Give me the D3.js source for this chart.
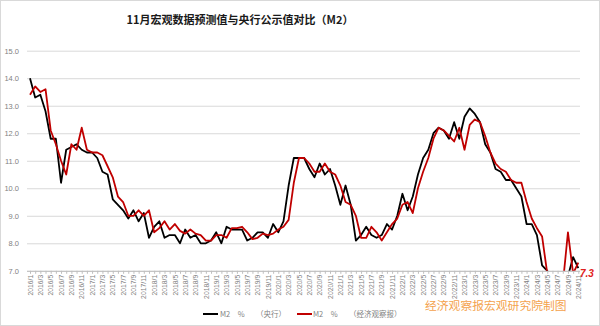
<!DOCTYPE html>
<html><head><meta charset="utf-8">
<script src="https://cdn.jsdelivr.net/npm/d3@7"></script>
<style>html,body{margin:0;padding:0;background:#fff;}svg{display:block;}</style>
</head><body>
<script>
const title = "11月宏观数据预测值与央行公示值对比（M2）";
const categories = [
"2016/1","2016/2","2016/3","2016/4","2016/5","2016/6","2016/7","2016/8","2016/9","2016/10","2016/11","2016/12",
"2017/1","2017/2","2017/3","2017/4","2017/5","2017/6","2017/7","2017/8","2017/9","2017/10","2017/11","2017/12",
"2018/1","2018/2","2018/3","2018/4","2018/5","2018/6","2018/7","2018/8","2018/9","2018/10","2018/11","2018/12",
"2019/1","2019/2","2019/3","2019/4","2019/5","2019/6","2019/7","2019/8","2019/9","2019/10","2019/11","2019/12",
"2020/1","2020/2","2020/3","2020/4","2020/5","2020/6","2020/7","2020/8","2020/9","2020/10","2020/11","2020/12",
"2021/1","2021/2","2021/3","2021/4","2021/5","2021/6","2021/7","2021/8","2021/9","2021/10","2021/11","2021/12",
"2022/1","2022/2","2022/3","2022/4","2022/5","2022/6","2022/7","2022/8","2022/9","2022/10","2022/11","2022/12",
"2023/1","2023/2","2023/3","2023/4","2023/5","2023/6","2023/7","2023/8","2023/9","2023/10","2023/11","2023/12",
"2024/1","2024/2","2024/3","2024/4","2024/5","2024/6","2024/7","2024/8","2024/9","2024/10","2024/11"];
// M2 % (central bank)
const pbocM2 = [
14.0,13.3,13.4,12.8,11.8,11.8,10.2,11.4,11.5,11.6,11.4,11.3,
11.3,11.1,10.6,10.5,9.6,9.4,9.2,8.9,9.2,8.8,9.1,8.2,
8.6,8.8,8.2,8.3,8.3,8.0,8.5,8.2,8.3,8.0,8.0,8.1,
8.4,8.0,8.6,8.5,8.5,8.5,8.1,8.2,8.4,8.4,8.2,8.7,
8.4,8.8,10.1,11.1,11.1,11.1,10.7,10.4,10.9,10.5,10.7,10.1,
9.4,10.1,9.4,8.1,8.3,8.6,8.3,8.2,8.3,8.7,8.5,9.0,
9.8,9.2,9.7,10.5,11.1,11.4,12.0,12.2,12.1,11.8,12.4,11.8,
12.6,12.9,12.7,12.4,11.6,11.3,10.7,10.6,10.3,10.3,10.0,9.7,
8.7,8.7,8.3,7.2,7.0,6.2,6.3,6.3,6.8,7.5,7.1];
// M2 % (Economic Observer forecast)
const eeoM2 = [
13.4,13.7,13.5,13.6,12.1,11.6,11.0,10.5,11.6,11.4,12.2,11.4,
11.3,11.3,11.2,10.8,10.4,9.7,9.5,9.0,9.0,9.2,9.0,9.2,
8.4,8.55,8.8,8.5,8.7,8.45,8.35,8.5,8.35,8.3,8.1,8.1,
8.3,8.3,8.2,8.55,8.55,8.6,8.4,8.15,8.2,8.35,8.3,8.35,
8.5,8.6,8.85,10.2,11.1,11.1,10.9,10.6,10.6,10.9,10.6,10.5,
10.1,9.5,9.4,9.0,8.2,8.2,8.6,8.4,8.1,8.4,8.7,8.9,
9.4,9.5,9.1,10.0,10.6,11.1,11.8,12.2,12.1,11.9,11.7,12.2,
11.4,12.3,12.5,12.4,11.9,11.3,10.9,10.7,10.6,10.3,10.2,10.2,
9.5,8.9,8.55,8.25,6.9,6.6,6.4,6.5,8.4,6.9,7.3];
const yTicks = [7,8,9,10,11,12,13,14,15];
const legendLabels = ["M2　%", "（央行）", "M2　%", "（经济观察报）"];
const endLabel = "7.3";
const watermark = "经济观察报宏观研究院制图";

const W = 600, H = 326;
const svg = d3.select("body").append("svg").attr("width", W).attr("height", H);
svg.append("rect").attr("x",0.5).attr("y",0.5).attr("width",W-1).attr("height",H-1)
  .attr("fill","#fff").attr("stroke","#d9d9d9");

const plotL = 27, plotR = 580, plotT = 50.7, plotB = 270.8;
const x = d3.scalePoint().domain(categories).range([30, 578.3]);
const y = d3.scaleLinear().domain([7, 15]).range([plotB, plotT]);

svg.append("text").attr("x", 240).attr("y", 24).attr("text-anchor","middle")
  .attr("font-family","'Noto Sans CJK SC', sans-serif").attr("font-weight","bold")
  .attr("font-size", 11).attr("fill","#1a1a1a").text(title);

// gridlines
const yAxis = d3.axisLeft(y).tickValues(yTicks).tickFormat(d3.format(".1f"))
  .tickSize(-(plotR - plotL)).tickPadding(8);
const gy = svg.append("g").attr("transform", `translate(${plotL},0)`).call(yAxis);
gy.select(".domain").remove();
gy.selectAll(".tick line").attr("stroke","#d9d9d9").attr("stroke-width",1);
gy.selectAll(".tick text").attr("font-family","'Liberation Sans', Arial, sans-serif")
  .attr("font-size", 7.5).attr("fill","#7f7f7f");

// x axis
const xAxis = d3.axisBottom(x).tickSize(3).tickFormat((d,i) => i % 2 === 0 ? d : "");
const gx = svg.append("g").attr("transform", `translate(0,${plotB})`).call(xAxis);
gx.select(".domain").attr("d", `M${plotL},0.5H${plotR}`).attr("stroke","#bfbfbf");
gx.selectAll(".tick line").attr("stroke","#bfbfbf");
gx.selectAll(".tick text")
  .attr("font-family","'Liberation Sans', Arial, sans-serif").attr("font-size", 6.8).attr("fill","#7f7f7f")
  .attr("transform","rotate(-90)").attr("text-anchor","end").attr("dy","0.32em").attr("x",-4).attr("y",0);

// clip
svg.append("clipPath").attr("id","clip").append("rect")
  .attr("x", plotL - 5).attr("y", plotT - 5).attr("width", plotR - plotL + 10).attr("height", plotB - plotT + 5);

const line = d3.line().x((d,i) => x(categories[i])).y(d => y(d));
const g = svg.append("g").attr("clip-path","url(#clip)");
g.append("path").datum(pbocM2).attr("d", line).attr("fill","none")
  .attr("stroke","#000").attr("stroke-width",1.8).attr("stroke-linejoin","round");
g.append("path").datum(eeoM2).attr("d", line).attr("fill","none")
  .attr("stroke","#c00000").attr("stroke-width",1.8).attr("stroke-linejoin","round");

// end label
svg.append("text").attr("x", 580).attr("y", 277)
  .attr("font-family","'Liberation Sans', Arial, sans-serif").attr("font-weight","bold").attr("font-style","italic")
  .attr("font-size", 10).attr("fill","#e02020").text(endLabel);

// legend
const lg = svg.append("g").attr("font-family","'Noto Sans CJK SC', sans-serif").attr("font-size",7.5).attr("fill","#7f7f7f");
const ly = 314;
lg.append("line").attr("x1",203).attr("x2",218).attr("y1",ly).attr("y2",ly).attr("stroke","#000").attr("stroke-width",2);
lg.append("text").attr("x",220).attr("y",ly+3).text(legendLabels[0]);
lg.append("text").attr("x",256).attr("y",ly+3).text(legendLabels[1]);
lg.append("line").attr("x1",297).attr("x2",312).attr("y1",ly).attr("y2",ly).attr("stroke","#c00000").attr("stroke-width",2);
lg.append("text").attr("x",313).attr("y",ly+3).text(legendLabels[2]);
lg.append("text").attr("x",349).attr("y",ly+3).text(legendLabels[3]);

// watermark
svg.append("text").attr("x", 425).attr("y", 310)
  .attr("font-family","'Noto Sans CJK SC', sans-serif").attr("font-size", 11.8)
  .attr("fill","#f4a24c").text(watermark);
</script>
</body></html>
